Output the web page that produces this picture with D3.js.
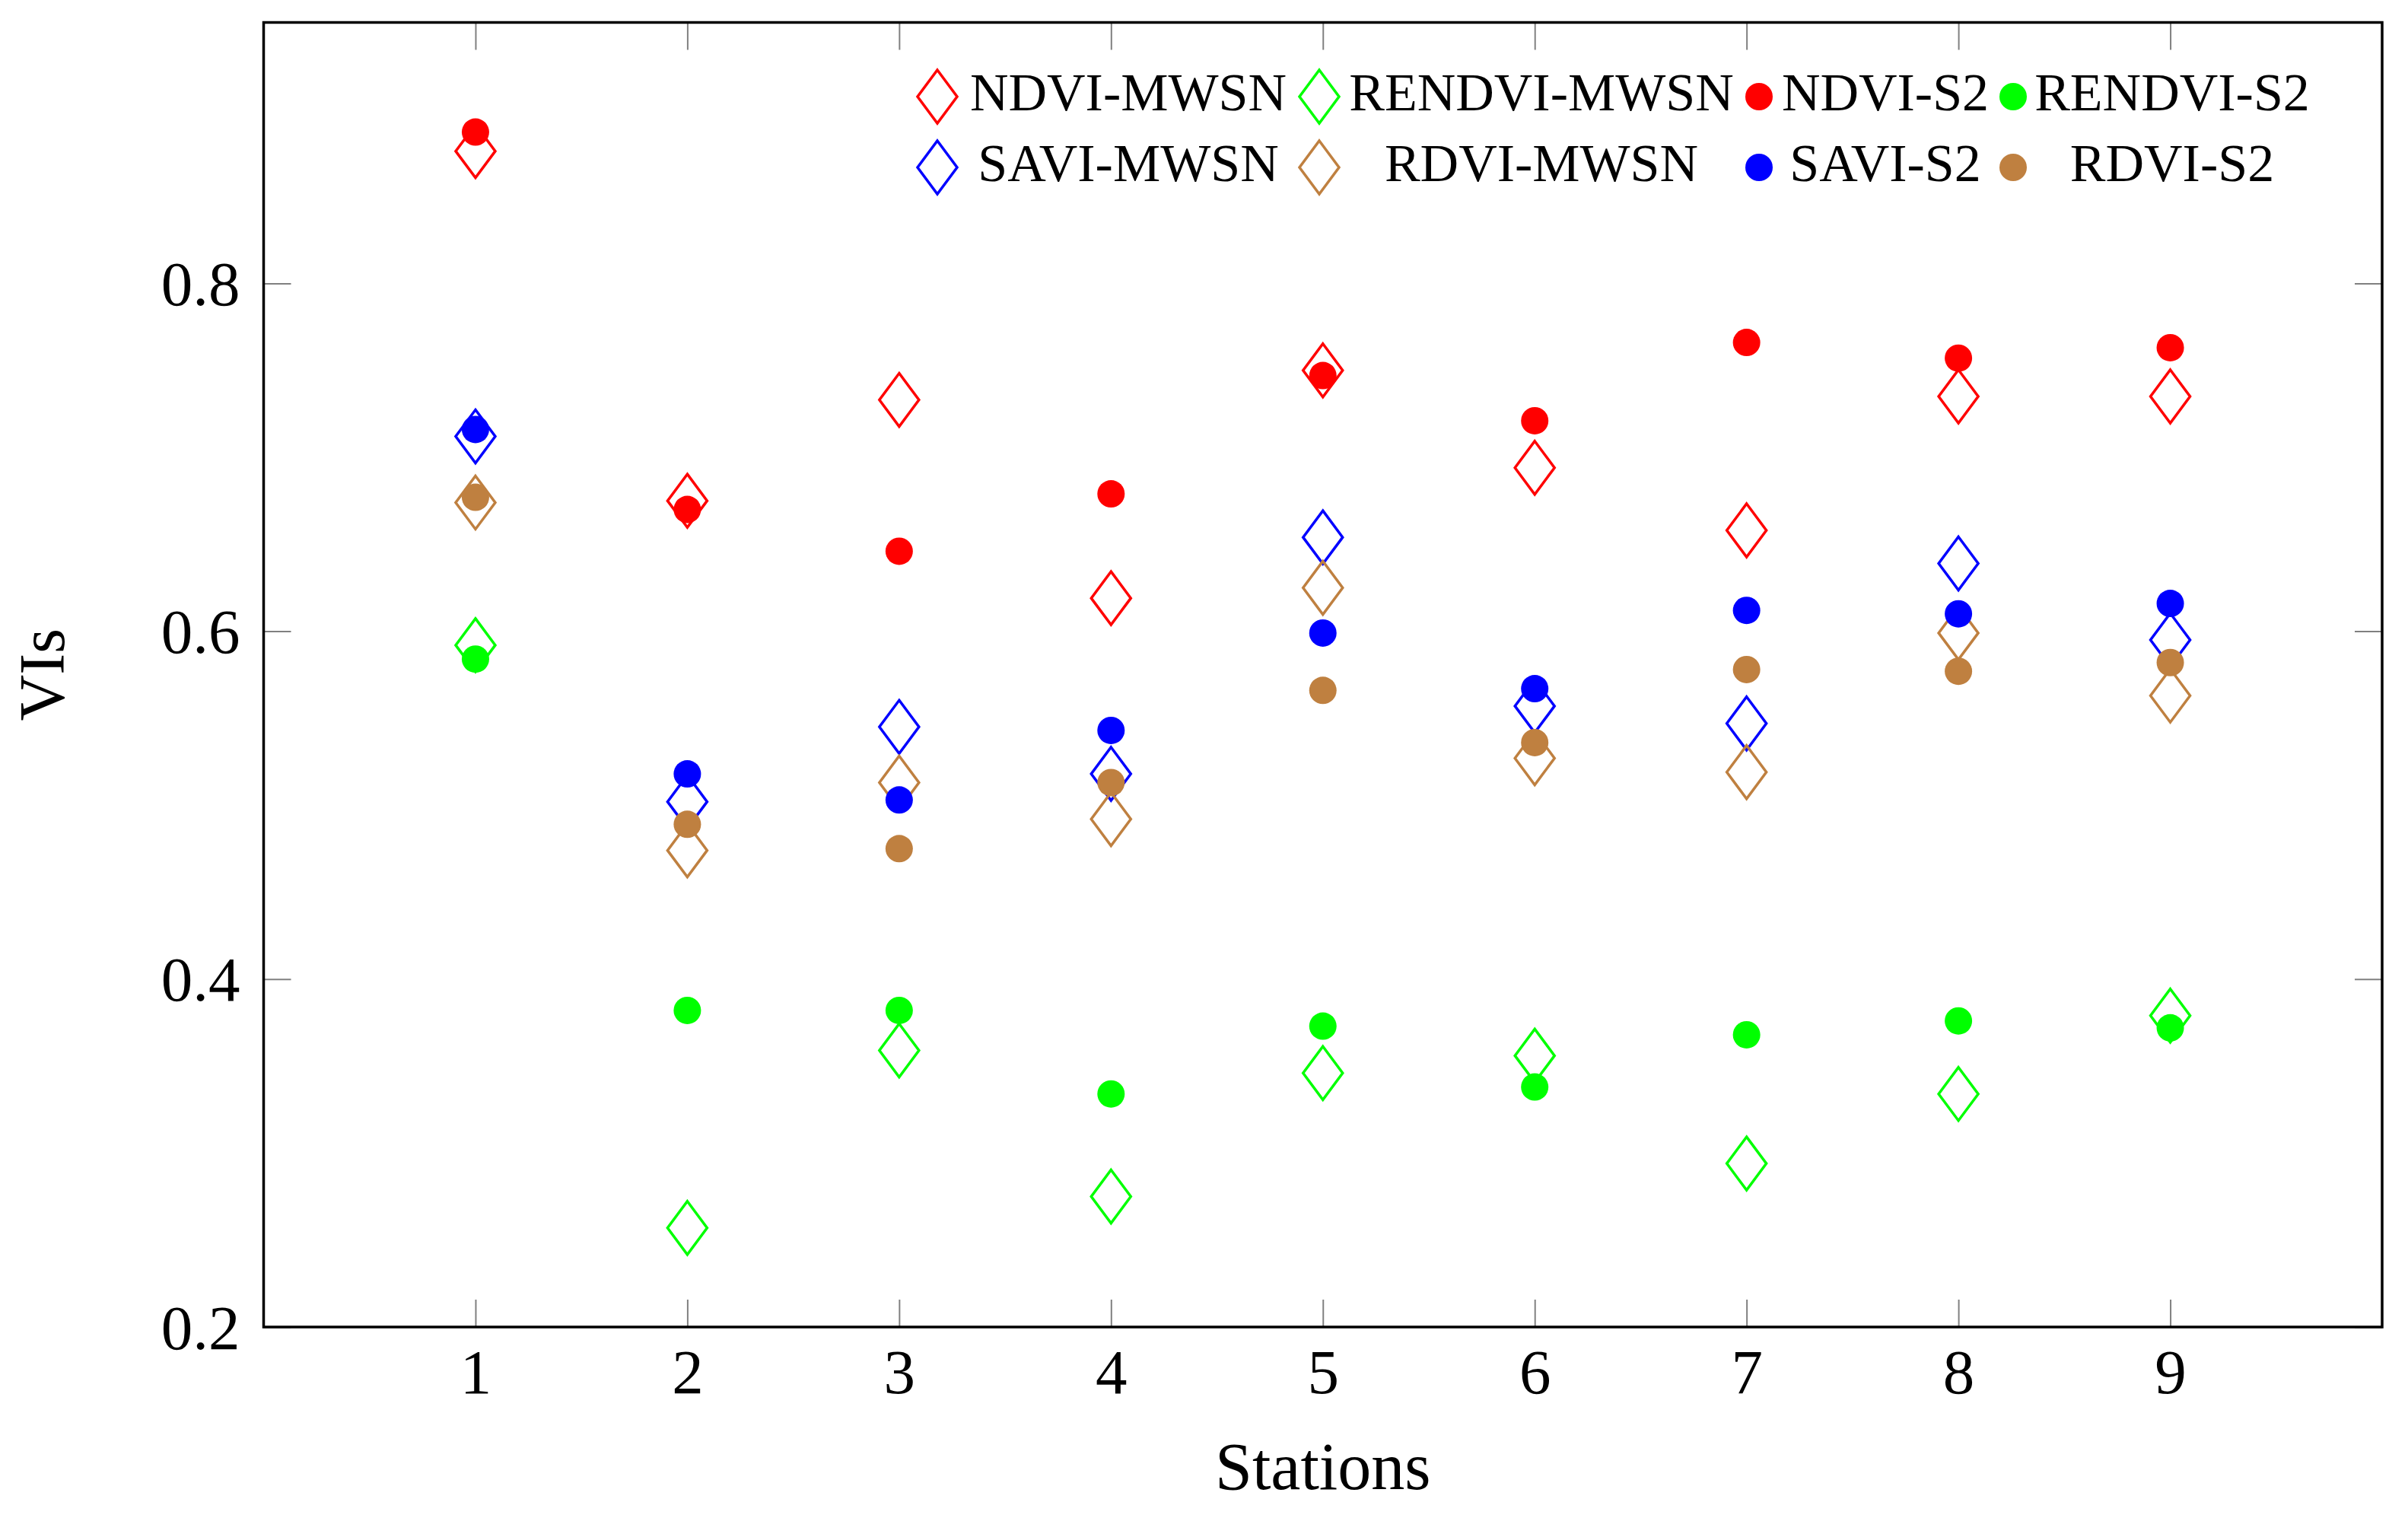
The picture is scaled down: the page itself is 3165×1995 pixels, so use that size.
<!DOCTYPE html>
<html>
<head>
<meta charset="utf-8">
<script src="https://cdn.jsdelivr.net/npm/d3@7"></script>
<style>
  body { margin: 0; background: #fff; }
  text { font-family: "Palatino Linotype", "URW Palladio L", "Liberation Serif", serif; fill: #000; }
</style>
</head>
<body>
<svg id="chart"></svg>
<script>
// values
const stations = [1, 2, 3, 4, 5, 6, 7, 8, 9];
const ndviMwsn   = [0.876, 0.675, 0.733, 0.619, 0.750, 0.694, 0.658, 0.735, 0.735];
const rendviMwsn = [0.592, 0.257, 0.359, 0.275, 0.346, 0.356, 0.294, 0.334, 0.379];
const ndviS2     = [0.887, 0.670, 0.646, 0.679, 0.747, 0.721, 0.766, 0.757, 0.763];
const rendviS2   = [0.584, 0.382, 0.382, 0.334, 0.373, 0.338, 0.368, 0.376, 0.372];
const saviMwsn   = [0.712, 0.502, 0.545, 0.518, 0.654, 0.557, 0.547, 0.639, 0.595];
const rdviMwsn   = [0.674, 0.474, 0.513, 0.492, 0.625, 0.527, 0.519, 0.599, 0.563];
const saviS2     = [0.716, 0.518, 0.503, 0.543, 0.599, 0.567, 0.612, 0.610, 0.616];
const rdviS2     = [0.677, 0.489, 0.475, 0.513, 0.566, 0.536, 0.578, 0.577, 0.582];
const yTicks = [0.2, 0.4, 0.6, 0.8];

const series = [
  { name: "NDVI-MWSN",   values: ndviMwsn,   color: "#ff0000", mark: "diamond" },
  { name: "RENDVI-MWSN", values: rendviMwsn, color: "#00ff00", mark: "diamond" },
  { name: "NDVI-S2",     values: ndviS2,     color: "#ff0000", mark: "circle" },
  { name: "RENDVI-S2",   values: rendviS2,   color: "#00ff00", mark: "circle" },
  { name: "SAVI-MWSN",   values: saviMwsn,   color: "#0000ff", mark: "diamond" },
  { name: "RDVI-MWSN",   values: rdviMwsn,   color: "#bf8040", mark: "diamond" },
  { name: "SAVI-S2",     values: saviS2,     color: "#0000ff", mark: "circle" },
  { name: "RDVI-S2",     values: rdviS2,     color: "#bf8040", mark: "circle" },
];

const W = 3165, H = 1995;
const margin = { top: 29.5, right: 34, bottom: 251, left: 346.5 };
const width = W - margin.left - margin.right;
const height = H - margin.top - margin.bottom;

const svg = d3.select("#chart").attr("width", W).attr("height", H);
const g = svg.append("g").attr("transform", `translate(${margin.left},${margin.top})`);

const x = d3.scaleLinear().domain([0, 10]).range([0, width]);
const y = d3.scaleLinear().domain([0.2, 0.95]).range([height, 0]);

const tickLen = 36;
const tickColor = "#808080";
const fs = 83;

// inward ticks on all four sides
const axisStyle = (sel) => {
  sel.select(".domain").remove();
  sel.selectAll(".tick line").attr("stroke", tickColor).attr("stroke-width", 2);
  sel.selectAll("text").attr("font-size", fs).attr("fill", "#000").attr("font-family", null);
};

g.append("g")
  .attr("transform", `translate(0,${height})`)
  .call(d3.axisBottom(x).tickValues(stations).tickSize(-tickLen).tickFormat(d3.format("d")))
  .call(axisStyle)
  .call((s) => s.selectAll("text").attr("y", 87).attr("dy", 0));

g.append("g")
  .call(d3.axisTop(x).tickValues(stations).tickSize(-tickLen).tickFormat(""))
  .call(axisStyle);

g.append("g")
  .call(d3.axisLeft(y).tickValues(yTicks).tickSize(-tickLen).tickFormat(d3.format(".1f")))
  .call(axisStyle)
  .call((s) => s.selectAll("text").attr("x", -31).attr("dy", 28));

g.append("g")
  .attr("transform", `translate(${width},0)`)
  .call(d3.axisRight(y).tickValues(yTicks).tickSize(-tickLen).tickFormat(""))
  .call(axisStyle);

// frame
g.append("rect")
  .attr("width", width)
  .attr("height", height)
  .attr("fill", "none")
  .attr("stroke", "#000")
  .attr("stroke-width", 3.5);

// axis titles
g.append("text")
  .attr("x", width / 2)
  .attr("y", height + 213)
  .attr("text-anchor", "middle")
  .attr("font-size", 88)
  .text("Stations");

svg.append("text")
  .attr("transform", `translate(84,${margin.top + height / 2}) rotate(-90)`)
  .attr("text-anchor", "middle")
  .attr("font-size", 84)
  .text("VIs");

// marks
const dW = 26, dH = 35, r = 18;
function drawMark(sel, s) {
  if (s.mark === "diamond") {
    sel.append("path")
      .attr("d", `M0,${-dH}L${dW},0L0,${dH}L${-dW},0Z`)
      .attr("fill", "none")
      .attr("stroke", s.color)
      .attr("stroke-width", 3.5);
  } else {
    sel.append("circle").attr("r", r).attr("fill", s.color);
  }
}

const plot = g.append("g");
series.forEach((s) => {
  plot.append("g")
    .selectAll("g")
    .data(s.values)
    .enter()
    .append("g")
    .attr("transform", (d, i) => `translate(${x(stations[i])},${y(d)})`)
    .each(function () { drawMark(d3.select(this), s); });
});

// legend, 4 columns
const colMark = [1232, 1734, 2312, 2646];
const colText = [1483, 2026, 2478, 2855];
const rowY = [127, 220];
const legend = svg.append("g");
series.forEach((s, i) => {
  const c = i % 4, rIdx = Math.floor(i / 4);
  const item = legend.append("g");
  item.append("g")
    .attr("transform", `translate(${colMark[c]},${rowY[rIdx]})`)
    .call((sel) => drawMark(sel, s));
  item.append("text")
    .attr("x", colText[c])
    .attr("y", rowY[rIdx] + 18)
    .attr("text-anchor", "middle")
    .attr("font-size", 70)
    .text(s.name);
});
</script>
</body>
</html>
